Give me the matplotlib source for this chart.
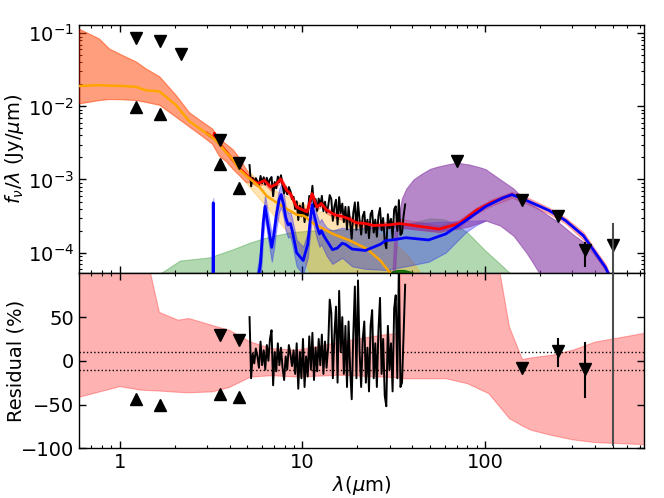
import numpy as np
import matplotlib
matplotlib.use("Agg")
import matplotlib.pyplot as plt
from matplotlib.ticker import FuncFormatter, NullFormatter

plt.rcParams['font.family'] = ['DejaVu Sans']
plt.rcParams['font.size'] = 14
plt.rcParams['mathtext.fontset'] = 'dejavusans'

# ---------------- data ----------------
# stellar component (orange)
st_wl = [0.6, 0.77, 0.875, 1.04, 1.23, 1.39, 1.65, 2.03, 2.4, 2.8, 3.2, 3.5, 3.8, 4.15, 4.5, 4.9,
         5.35, 5.8, 6.4, 7.9, 9.3, 10.2, 11.5, 14.7, 18.2, 22.5, 26.7, 30.0, 33.0, 38.0, 45.0]
st_med = [0.019, 0.0195, 0.0192, 0.019, 0.0185, 0.0166, 0.016, 0.0105, 0.0063, 0.0048, 0.0038, 0.0031,
          0.0024, 0.0019, 0.0014, 0.00114, 9.5e-4, 8.0e-4, 5.9e-4, 4.2e-4, 3.3e-4, 3.2e-4, 2.5e-4,
          1.8e-4, 1.46e-4, 1.13e-4, 7.8e-5, 5.4e-5, 3.8e-5, 2.5e-5, 1.2e-5]
st_hi = [0.115, 0.085, 0.062, 0.050, 0.041, 0.033, 0.0257, 0.0143, 0.0083, 0.0063, 0.0050, 0.0037,
         0.0031, 0.0026, 0.0020, 0.0014, 0.00115, 9.2e-4, 8.0e-4, 6.2e-4, 5.0e-4, 4.6e-4, 3.9e-4,
         3.2e-4, 2.7e-4, 2.2e-4, 1.8e-4, 1.5e-4, 1.25e-4, 9.0e-5, 5.0e-5]
st_lo = [0.011, 0.0122, 0.0126, 0.0125, 0.0122, 0.0115, 0.0105, 0.0072, 0.0053, 0.0040, 0.0031, 0.0021,
         0.0018, 0.0014, 0.00115, 9.2e-4, 7.0e-4, 5.5e-4, 4.2e-4, 2.2e-4, 1.3e-4, 8.0e-5, 4.0e-5,
         1e-5, 1e-6, 1e-6, 1e-6, 1e-6, 1e-6, 1e-6, 1e-6]

# total model (red line + band)
red_wl = [3.0, 3.2, 3.27, 3.3, 3.33, 3.4, 3.6, 4.0, 4.5, 4.9, 5.2, 5.7, 6.2, 6.7, 7.2, 7.6, 8.2, 8.6,
          9.3, 10.6, 11.3, 12.0, 12.7, 13.6, 15.0, 16.7, 18.0, 19.8, 22.0, 24.5, 30.0, 34.2, 40.5,
          56.0, 72.0, 89.0, 109.0, 140.0]
red_val = [4.3e-3, 3.8e-3, 3.7e-3, 4.3e-3, 3.6e-3, 3.4e-3, 2.9e-3, 2.1e-3, 1.45e-3, 1.18e-3, 1.02e-3,
           8.8e-4, 9.7e-4, 7.9e-4, 8.6e-4, 1.02e-3, 7.1e-4, 6.4e-4, 4.2e-4, 3.6e-4, 6.4e-4, 4.2e-4,
           4.7e-4, 3.8e-4, 3.3e-4, 3.1e-4, 2.9e-4, 2.55e-4, 2.5e-4, 2.35e-4, 2.4e-4, 2.5e-4, 2.35e-4,
           2.1e-4, 2.5e-4, 3.76e-4, 4.9e-4, 6.2e-4]
tot_wl = [0.6, 0.77, 0.875, 1.04, 1.23, 1.39, 1.65, 2.03, 2.4, 2.8, 3.2, 3.5, 3.8, 4.15, 4.5, 4.9,
          5.2, 5.7, 6.2, 6.7, 7.2, 7.6, 8.2, 8.6, 9.3, 10.6, 11.3, 12.0, 12.7, 13.6, 15.0, 16.7, 18.0,
          19.8, 22.0, 24.5, 30.0, 34.2, 40.5, 56.0, 72.0, 89.0, 109.0, 140.0, 158.0, 224.0, 275.0,
          345.0, 400.0, 455.0, 475.0, 520.0, 740.0]
tot_hi = [0.115, 0.085, 0.062, 0.050, 0.041, 0.033, 0.0257, 0.0143, 0.0083, 0.0063, 0.0050, 0.0037,
          0.0031, 0.0026, 0.0020, 0.0014, 1.12e-3, 9.7e-4, 1.07e-3, 8.7e-4, 9.5e-4, 1.12e-3, 7.8e-4,
          7.0e-4, 4.6e-4, 3.95e-4, 7.0e-4, 4.6e-4, 5.2e-4, 4.2e-4, 3.6e-4, 3.4e-4, 3.2e-4, 2.8e-4,
          2.75e-4, 2.6e-4, 2.65e-4, 2.9e-4, 2.7e-4, 2.35e-4, 2.8e-4, 4.1e-4, 5.4e-4, 6.8e-4, 6.2e-4,
          4.1e-4, 3.0e-4, 1.9e-4, 1.1e-4, 7.0e-5, 5.5e-5, 2.8e-5, 1e-6]
tot_lo = [0.011, 0.0122, 0.0126, 0.0125, 0.0122, 0.0115, 0.0105, 0.0072, 0.0053, 0.0040, 0.0031, 0.0021,
          0.0018, 0.0014, 0.00115, 9.2e-4, 9.2e-4, 8.0e-4, 8.8e-4, 7.1e-4, 7.8e-4, 9.2e-4, 6.4e-4,
          5.8e-4, 3.8e-4, 3.25e-4, 5.8e-4, 3.8e-4, 4.25e-4, 3.45e-4, 3.0e-4, 2.8e-4, 2.6e-4, 2.3e-4,
          2.25e-4, 2.1e-4, 2.15e-4, 2.25e-4, 2.1e-4, 1.9e-4, 2.25e-4, 3.4e-4, 4.4e-4, 5.6e-4, 5.0e-4,
          3.4e-4, 2.5e-4, 1.5e-4, 9.0e-5, 5.7e-5, 4.5e-5, 2.2e-5, 1e-6]

# dust / PAH component (blue line)
blue_wl = [3.22, 3.255, 3.29, 5.5, 5.6, 5.9, 6.1, 6.25, 6.45, 6.8, 7.0, 7.2, 7.45, 7.65, 7.9, 8.1,
           8.35, 8.6, 8.8, 9.3, 10.1, 10.7, 11.05, 11.3, 11.6, 12.0, 12.4, 12.7, 13.1, 13.6, 14.6,
           15.5, 16.5, 17.2, 18.7, 22.1, 26.7, 28.5, 31.5, 36.8, 49.0, 60.8, 78.4, 100.6, 125.0,
           140.0, 158.0, 224.0, 275.0, 345.0, 400.0, 455.0, 475.0, 520.0]
blue_val = [1e-6, 4.8e-4, 1e-6, 1e-6, 3.0e-5, 7.1e-5, 2.5e-4, 4.3e-4, 2.6e-4, 1.18e-4, 1.8e-4, 3.2e-4,
            5.2e-4, 6.2e-4, 4.5e-4, 3.05e-4, 2.4e-4, 2.5e-4, 2.0e-4, 1.0e-4, 7.8e-5, 1.3e-4, 2.8e-4,
            4.5e-4, 3.3e-4, 2.3e-4, 1.8e-4, 2.0e-4, 1.7e-4, 1.46e-4, 1.1e-4, 1.15e-4, 1.34e-4, 1.3e-4,
            1.12e-4, 1.07e-4, 1.3e-4, 1.46e-4, 1.5e-4, 1.6e-4, 1.49e-4, 1.8e-4, 2.75e-4, 4.27e-4,
            5.6e-4, 6.2e-4, 5.55e-4, 3.76e-4, 2.75e-4, 1.7e-4, 1.0e-4, 6.3e-5, 5.0e-5, 2.5e-5]
bb_wl = [3.22, 3.255, 3.29, 5.6, 5.9, 6.1, 6.25, 6.45, 6.8, 7.0, 7.2, 7.45, 7.65, 7.9, 8.1, 8.35, 8.6,
         8.8, 9.3, 10.1, 10.7, 11.05, 11.3, 11.6, 12.0, 12.4, 12.7, 13.1, 13.6, 14.6, 16.5, 18.7,
         22.1, 28.5, 36.8, 49.0, 60.8, 78.4, 90.0, 100.6]
bb_hi = [1e-6, 5.6e-4, 1e-6, 5e-5, 1.1e-4, 3.6e-4, 6.2e-4, 3.8e-4, 1.8e-4, 2.7e-4, 4.6e-4, 7.4e-4,
         8.6e-4, 6.5e-4, 4.4e-4, 3.5e-4, 3.6e-4, 2.9e-4, 1.5e-4, 1.2e-4, 1.9e-4, 4.0e-4, 6.5e-4,
         4.7e-4, 3.3e-4, 2.6e-4, 2.9e-4, 2.5e-4, 2.2e-4, 2.0e-4, 2.2e-4, 2.1e-4, 2.2e-4, 2.35e-4,
         2.5e-4, 2.6e-4, 2.65e-4, 2.7e-4, 2.75e-4, 2.78e-4]
bb_lo = [1e-6, 1e-6, 1e-6, 1e-5, 4e-5, 1.6e-4, 3.0e-4, 1.7e-4, 7.5e-5, 1.15e-4, 2.1e-4, 3.5e-4,
         4.2e-4, 3.0e-4, 2.0e-4, 1.6e-4, 1.65e-4, 1.3e-4, 6.5e-5, 5e-5, 8.5e-5, 1.85e-4, 3.1e-4,
         2.2e-4, 1.55e-4, 1.2e-4, 1.3e-4, 1.1e-4, 9e-5, 7e-5, 8.5e-5, 6.5e-5, 6e-5, 5.8e-5, 6.5e-5,
         7.5e-5, 1.0e-4, 1.9e-4, 2.4e-4, 2.75e-4]

# green component
gr_wl = [1.5, 1.67, 2.14, 3.1, 4.2, 5.2, 6.4, 8.6, 11.0, 15.0, 20.0, 30.0, 40.0, 50.0, 60.0, 70.0,
         80.0, 100.0, 120.0, 137.0, 150.0]
gr_hi = [4e-5, 5.2e-5, 7.8e-5, 8.6e-5, 1.12e-4, 1.38e-4, 1.62e-4, 1.9e-4, 2.0e-4, 2.05e-4, 2.1e-4,
         2.3e-4, 2.57e-4, 2.95e-4, 2.84e-4, 2.34e-4, 1.88e-4, 1.07e-4, 7.1e-5, 5.2e-5, 3e-5]

# dark green sliver
dg_wl = [27.0, 30.0, 33.0, 36.0, 40.0, 45.0]
dg_hi = [1e-5, 5.4e-5, 5.8e-5, 5.8e-5, 5.4e-5, 1e-5]

# big grains (purple)
pu_wl = [30, 32, 33.5, 35, 37, 40.5, 45, 50, 55, 61.6, 70, 82, 95, 100.6, 121, 143, 168, 181, 198,
         218, 252, 300, 345, 360, 425, 480, 520]
pu_hi = [1e-5, 5e-5, 3e-4, 5.5e-4, 7.5e-4, 1.0e-3, 1.2e-3, 1.4e-3, 1.5e-3, 1.6e-3, 1.7e-3, 1.6e-3,
         1.45e-3, 1.38e-3, 1.0e-3, 7.5e-4, 5.0e-4, 4.5e-4, 3.9e-4, 3.3e-4, 2.6e-4, 1.8e-4, 1.4e-4,
         1.25e-4, 7.5e-5, 5e-5, 3e-5]
pu_lo = [1e-5, 2.0e-4, 2.1e-4, 2.15e-4, 2.15e-4, 2.1e-4, 2.05e-4, 2.0e-4, 2.0e-4, 2.05e-4, 2.1e-4,
         2.3e-4, 2.6e-4, 2.75e-4, 2.34e-4, 1.7e-4, 1.0e-4, 7.5e-5, 5.2e-5, 2.5e-5, 1e-5, 1e-5,
         1e-5, 1e-5, 1e-5, 1e-5, 1e-5]

# photometry
up_wl = [1.235, 1.662, 2.159, 3.55, 4.49, 70, 160, 250, 350, 500]
up_val = [0.086, 0.079, 0.0515, 0.0035, 0.0017, 0.0018, 5.2e-4, 3.2e-4, 1.07e-4, 1.29e-4]
lo_wl = [1.235, 1.662, 3.55, 4.49]
lo_val = [0.0098, 0.0078, 0.00164, 0.00077]
err_wl = [350, 500]
err_top = [1.37e-4, 2.5e-4]
err_bot = [6.6e-5, 1e-7]

# spectrum residuals (%), 5.14 - 36.5 micron
spec_res = [50, -20, 8, -3, 14, 5, -8, 22, -5, 12, -10, 18, 0, 25, 35, -28, 10, -12, 20, -5,
            15, -8, -22, 5, -10, 18, 8, -6, 12, -15, 20, -32, 10, -20, 25, -30, 5, -18, 28, -10,
            32, -22, 15, -12, 25, -5, 30, -15, 22, -8, 15, 70, 55, -20, 30, 62, -25, 80, 10, 50,
            -15, 40, -30, 45, -10, -44, 30, 85, -20, 92, 10, -30, 25, 45, -25, 15, -35, 40, 58, -20,
            20, -30, 35, 72, -15, 25, -40, -52, 40, -10, 20, -35, 60, 75, -20, 110, -30, -25, 30, 87]
spec_wl = np.geomspace(5.14, 36.5, len(spec_res))

# residual band
rb_wl = [0.6, 1.0, 1.3, 1.64, 2.08, 2.38, 3.2, 3.96, 5.18, 6.76, 9.33, 15.9, 27.2, 33.8, 34.2, 60.8,
         79.6, 104, 109, 135, 159, 178, 232, 303, 398, 740]
rb_hi = [150, 150, 150, 56, 47, 49, 41, 35.5, 22, 14.5, 12.6, 22, 30, 32, 150, 150, 150, 150, 150,
         39, 2, 4, 7, 13, 22, 32]
rb_lo = [-41, -29, -33, -34, -35.5, -36, -35, -30, -18, -16.5, -18, -16, -18, -19, -20, -20, -25.6,
         -37, -42, -65.6, -74, -79, -85, -90, -93, -95.4]

res_up_wl = [3.55, 4.49, 160, 250, 350]
res_up = [30, 24, -8.4, 10.7, -9.2]
res_lo_wl = [1.235, 1.662, 3.55, 4.49]
res_lo = [-44, -50, -38, -41]
res_err_wl = [250, 350]
res_err_top = [25, 20]
res_err_bot = [-6.5, -41]
res_500_wl = [500]
res_500_top = [180]
res_500_bot = [-96.5]

# ---------------- figure ----------------
fig = plt.figure(figsize=(6.64, 4.98), dpi=100)
ax1 = fig.add_axes([0.119, 0.451, 0.851, 0.499])
ax2 = fig.add_axes([0.119, 0.100, 0.851, 0.351], sharex=ax1)

def band(ax, x, lo, hi, color, alpha, z):
    ax.fill_between(x, lo, hi, facecolor=color, edgecolor=color, alpha=alpha, lw=0.8, zorder=z)

band(ax1, gr_wl, [1e-7] * len(gr_wl), gr_hi, 'green', 0.3, 1)
band(ax1, st_wl, st_lo, st_hi, 'orange', 0.3, 2)
band(ax1, tot_wl, tot_lo, tot_hi, 'red', 0.3, 3)
band(ax1, bb_wl, bb_lo, bb_hi, 'blue', 0.3, 4)
band(ax1, pu_wl, pu_lo, pu_hi, '#8a3fa8', 0.62, 5)
band(ax1, dg_wl, [1e-7] * len(dg_wl), dg_hi, 'darkgreen', 0.85, 5)

# spectrum: observed = model * (1 + residual/100)
model_at_spec = 10 ** np.interp(np.log10(spec_wl), np.log10(red_wl), np.log10(red_val))
spec_flux = model_at_spec * (1 + np.array(spec_res) / 100.0)
ax1.plot(spec_wl, spec_flux, color='k', lw=1.4, zorder=6)

ax1.plot(red_wl, red_val, color='red', lw=2.0, zorder=7)
ax1.plot(st_wl, st_med, color='orange', lw=1.8, zorder=8)
ax1.plot(blue_wl, blue_val, color='blue', lw=2.0, zorder=9)

ax1.plot(up_wl, up_val, 'v', color='k', ms=8, zorder=10)
ax1.plot(lo_wl, lo_val, '^', color='k', ms=8, zorder=10)
for w, t, b, c in zip(err_wl, err_top, err_bot, ['k', '0.3']):
    ax1.plot([w, w], [b, t], color=c, lw=1.5, zorder=10)

ax1.set_xscale('log')
ax1.set_yscale('log')
ax1.set_xlim(0.6, 740)
ax1.set_ylim(5.2e-5, 0.13)
ax1.set_ylabel(r'$f_{\nu}/\lambda$ (Jy/$\mu$m)')
ax1.tick_params(labelbottom=False)

# residual panel
band(ax2, rb_wl, rb_lo, rb_hi, 'red', 0.3, 1)
ax2.axhline(10, ls=':', color='k', lw=1, zorder=2)
ax2.axhline(-10, ls=':', color='k', lw=1, zorder=2)
ax2.plot(spec_wl, spec_res, color='k', lw=1.4, zorder=5)
ax2.plot(res_up_wl, res_up, 'v', color='k', ms=8, zorder=6)
ax2.plot(res_lo_wl, res_lo, '^', color='k', ms=8, zorder=6)
for w, t, b in zip(res_err_wl, res_err_top, res_err_bot):
    ax2.plot([w, w], [b, t], color='k', lw=1.5, zorder=6)
for w, t, b in zip(res_500_wl, res_500_top, res_500_bot):
    ax2.plot([w, w], [b, t], color='0.3', lw=1.5, zorder=6)
ax2.set_ylim(-100, 100)
ax2.set_yticks([-100, -50, 0, 50])
ax2.set_ylabel('Residual (%)')
ax2.set_xlabel(r'$\lambda(\mu$m)')
ax2.xaxis.set_major_formatter(FuncFormatter(lambda v, p: '%g' % v))
ax2.xaxis.set_minor_formatter(NullFormatter())

for ax in (ax1, ax2):
    ax.tick_params(which='both', direction='in', top=True, right=True)
    ax.tick_params(which='major', length=5, width=1)
    ax.tick_params(which='minor', length=2.5, width=0.8)
    for s in ax.spines.values():
        s.set_linewidth(1.0)

# label positions as in the reference
ax1.yaxis.set_label_coords(-0.094, 0.5)
ax2.yaxis.set_label_coords(-0.094, 0.5)
ax2.xaxis.set_label_coords(0.5, -0.148)

fig.savefig('out.png', dpi=100)
